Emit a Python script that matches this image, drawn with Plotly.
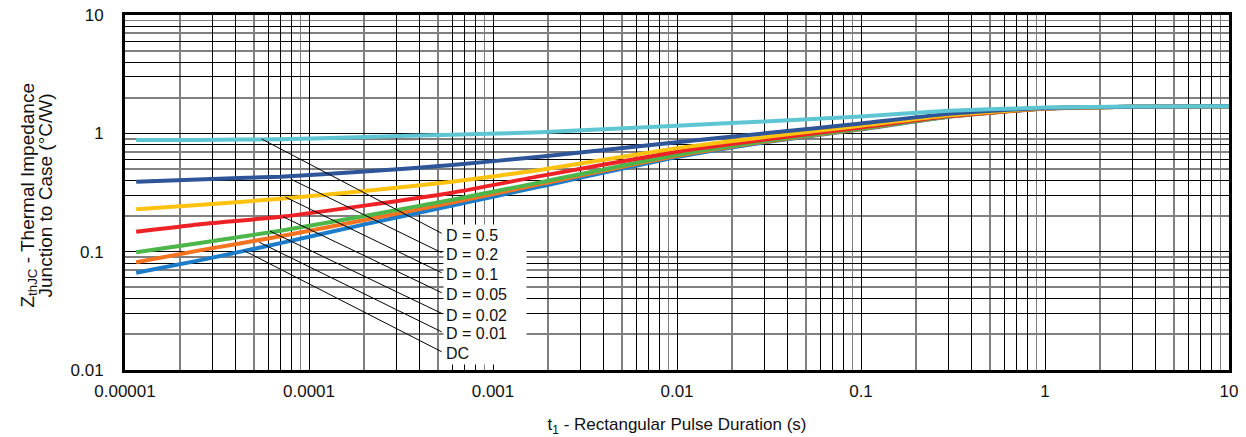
import math
import plotly.graph_objects as go

# ---- data ----
t_pulse = [1.15e-5, 2.5e-5, 7e-5, 2e-4, 6e-4, 1.8e-3, 0.01, 0.03, 0.1, 0.3, 1, 3, 10]

z_d050 = [0.878, 0.880, 0.893, 0.930, 0.975, 1.02, 1.16, 1.26, 1.39, 1.55, 1.65, 1.685, 1.695]
z_d020 = [0.390, 0.408, 0.430, 0.475, 0.540, 0.635, 0.84, 1.00, 1.21, 1.46, 1.64, 1.68, 1.695]
z_d010 = [0.228, 0.248, 0.280, 0.325, 0.390, 0.490, 0.75, 0.93, 1.16, 1.42, 1.63, 1.68, 1.695]
z_d005 = [0.1475, 0.170, 0.197, 0.245, 0.315, 0.435, 0.70, 0.885, 1.12, 1.40, 1.625, 1.68, 1.695]
z_d002 = [0.0987, 0.118, 0.150, 0.200, 0.275, 0.385, 0.66, 0.86, 1.10, 1.39, 1.625, 1.68, 1.695]
z_d001 = [0.0813, 0.102, 0.135, 0.185, 0.260, 0.372, 0.645, 0.85, 1.09, 1.385, 1.62, 1.68, 1.695]
z_dc   = [0.0664, 0.084, 0.118, 0.170, 0.245, 0.355, 0.63, 0.84, 1.08, 1.38, 1.62, 1.68, 1.695]

series_names = ["D = 0.5", "D = 0.2", "D = 0.1", "D = 0.05", "D = 0.02", "D = 0.01", "DC"]
series_values = [z_d050, z_d020, z_d010, z_d005, z_d002, z_d001, z_dc]
series_colors = ["#5ec6d3", "#2d5597", "#ffc20e", "#ed2227", "#4cb64a", "#f47321", "#1c7cc9"]

# leader lines: point on curve -> label position
leader_t_from = [5.53e-5, 7.95e-5, 7.47e-5, 7.24e-5, 6.14e-5, 5.37e-5, 4.44e-5]
leader_z_from = [0.895, 0.411, 0.288, 0.197, 0.149, 0.120, 0.102]
label_t = [5.26e-4] * 7
label_z = [0.143, 0.098, 0.0664, 0.045, 0.0301, 0.0210, 0.01426]

x_decades = [1e-5, 1e-4, 1e-3, 1e-2, 1e-1, 1, 10]
x_tick_text = ["0.00001", "0.0001", "0.001", "0.01", "0.1", "1", "10"]
y_decades = [0.01, 0.1, 1, 10]
y_tick_text = ["0.01", "0.1", "1", "10"]

x_title = "t<sub>1</sub> - Rectangular Pulse Duration (s)"
y_title_lines = ["Z<sub>thJC</sub> - Thermal Impedance", "Junction to Case (°C/W)"]

FONT = "Liberation Sans, Arial, sans-serif"

fig = go.Figure()

# draw DC first, D=0.5 last (on top)
for name, vals, col in reversed(list(zip(series_names, series_values, series_colors))):
    fig.add_trace(go.Scatter(
        x=t_pulse, y=vals, mode="lines", name=name,
        line=dict(color=col, width=4, shape="spline", smoothing=0.5),
        showlegend=False, hoverinfo="skip"))

# leader lines from curves to labels
for tf, zf, tl, zl in zip(leader_t_from, leader_z_from, label_t, label_z):
    fig.add_trace(go.Scatter(
        x=[tf, tl], y=[zf, zl], mode="lines",
        line=dict(color="black", width=1),
        showlegend=False, hoverinfo="skip"))

# grid: black lines at some positions, gray at others
x_black = []
x_gray = []
for d in x_decades[:-1]:
    for m in (3, 4, 6, 7, 8):
        x_black.append(d * m)
    for m in (2, 5, 9):
        x_gray.append(d * m)
y_black = []
y_gray = []
for d in y_decades[:-1]:
    for m in (3, 4, 6, 8):
        y_black.append(d * m)
    for m in (2, 5, 7, 9):
        y_gray.append(d * m)

fig.update_xaxes(
    type="log", range=[-5, 1],
    tickmode="array", tickvals=x_decades + x_black,
    ticktext=x_tick_text + [""] * len(x_black),
    showgrid=True, gridcolor="#000000", gridwidth=1,
    minor=dict(tickmode="array", tickvals=x_gray, showgrid=True,
               gridcolor="#808080", gridwidth=1.8, ticks=""),
    ticks="", ticklabelstandoff=4, ticklabeloverflow="allow",
    showline=True, linecolor="black", linewidth=3, mirror=True,
    tickfont=dict(family=FONT, size=17, color="#111"),
    title=dict(text=x_title,
               font=dict(family=FONT, size=17, color="#111"), standoff=30),
    automargin=False, zeroline=False)

fig.update_yaxes(
    type="log", range=[-2, 1],
    tickmode="array", tickvals=y_decades + y_black,
    ticktext=y_tick_text + [""] * len(y_black),
    showgrid=True, gridcolor="#000000", gridwidth=1,
    minor=dict(tickmode="array", tickvals=y_gray, showgrid=True,
               gridcolor="#808080", gridwidth=1.8, ticks=""),
    ticks="", ticklabelstandoff=15, ticklabeloverflow="allow",
    showline=True, linecolor="black", linewidth=3, mirror=True,
    tickfont=dict(family=FONT, size=17, color="#111"),
    automargin=False, zeroline=False)

annotations = []
for name, tl, zl in zip(series_names, label_t, label_z):
    annotations.append(dict(
        x=math.log10(tl), y=math.log10(zl), xref="x", yref="y",
        text=name, showarrow=False, xanchor="left", yanchor="middle",
        xshift=1, yshift=-2, align="left", width=78, borderpad=2,
        bgcolor="white", font=dict(family=FONT, size=16, color="#111")))

# y-axis title as two tightly spaced rotated lines
for line_text, xs in zip(y_title_lines, [-97, -80]):
    annotations.append(dict(
        x=0, y=0.5, xref="paper", yref="paper", xanchor="center", yanchor="middle",
        xshift=xs, yshift=-3, textangle=-90, showarrow=False, text=line_text,
        font=dict(family=FONT, size=19, color="#111")))

fig.update_layout(
    width=1246, height=437,
    margin=dict(l=125, r=17, t=15, b=67, pad=0),
    paper_bgcolor="white", plot_bgcolor="white",
    annotations=annotations,
    font=dict(family=FONT))

fig.write_html(
    "out.html",
    config={"displayModeBar": False, "staticPlot": True},
    post_script="document.body.style.margin='0';document.body.style.overflow='hidden';")
